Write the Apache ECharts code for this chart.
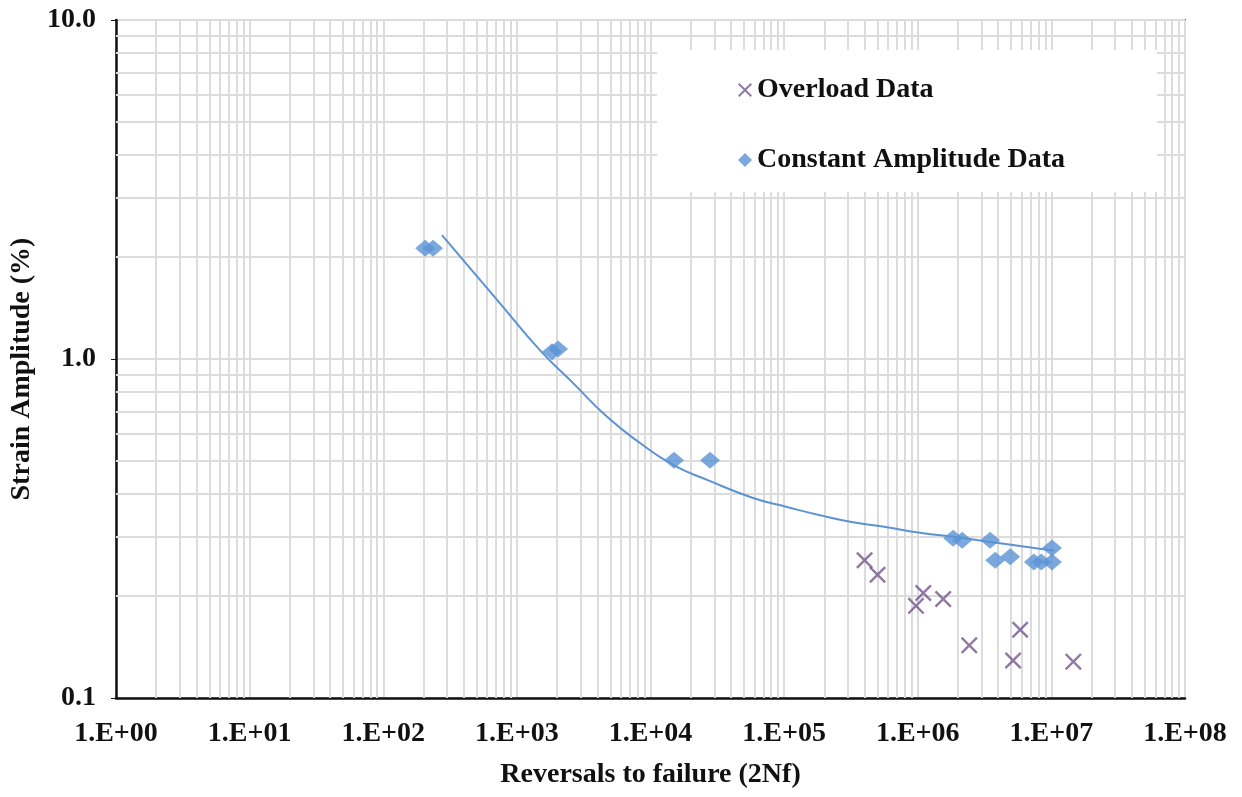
<!DOCTYPE html>
<html>
<head>
<meta charset="utf-8">
<script src="https://cdn.jsdelivr.net/npm/echarts@6/dist/echarts.min.js"></script>
<style>
  html, body { margin: 0; padding: 0; background: #fff; }
  #main { width: 1242px; height: 797px; }
</style>
</head>
<body>
<div id="main"></div>
<script>
// 轴刻度
var xTickLabels = ['1.E+00', '1.E+01', '1.E+02', '1.E+03', '1.E+04', '1.E+05', '1.E+06', '1.E+07', '1.E+08'];
var yTickLabels = ['0.1', '1.0', '10.0'];

// 过载数据 (reversals, strain %)
var overloadX = [4.0e5, 5.0e5, 9.7e5, 1.1e6, 1.55e6, 2.43e6, 5.84e6, 5.17e6, 1.46e7];
var overloadY = [0.255, 0.231, 0.187, 0.204, 0.196, 0.143, 0.159, 0.129, 0.128];

// 恒幅数据
var constX = [206, 236, 1834, 2033, 15000, 27900, 1.84e6, 2.15e6, 3.48e6, 3.80e6, 4.92e6, 7.4e6, 8.4e6, 1.01e7, 1.01e7];
var constY = [2.12, 2.12, 1.05, 1.07, 0.503, 0.503, 0.296, 0.292, 0.292, 0.255, 0.261, 0.252, 0.252, 0.252, 0.277];

// 趋势线
var trendX = [275, 748, 1493, 2637, 4732, 8356, 14760, 26530, 58640, 1.05e5, 1.86e5, 3.28e5, 5.9e5, 1.04e6, 1.84e6, 4.14e6, 1.05e7];
var trendY = [2.32, 1.46, 1.06, 0.849, 0.675, 0.565, 0.487, 0.440, 0.389, 0.366, 0.346, 0.330, 0.319, 0.307, 0.299, 0.286, 0.272];

function pairs(xs, ys) {
    return xs.map(function (x, i) { return [x, ys[i]]; });
}

// 对数次网格线
var minorLines = [];
for (var k = 0; k < 8; k++) {
    for (var m = 2; m <= 9; m++) minorLines.push({ xAxis: m * Math.pow(10, k) });
}
for (var j = -1; j < 1; j++) {
    for (var n = 2; n <= 9; n++) minorLines.push({ yAxis: n * Math.pow(10, j) });
}

var font = 'Liberation Serif';
var crossPath = 'path://M1,0 L5,4 L9,0 L10,1 L6,5 L10,9 L9,10 L5,6 L1,10 L0,9 L4,5 L0,1 Z';
var gridColor = '#dcdcdc';

var chart = echarts.init(document.getElementById('main'));
var option = {
    animation: false,
    backgroundColor: '#fff',
    grid: {
        left: 116, right: 57, top: 20, bottom: 99,
        show: true, borderColor: '#555', borderWidth: 2
    },
    // 图例白底
    graphic: {
        z: 8,
        elements: [{
            type: 'rect', z: 8,
            shape: { x: 657, y: 50, width: 500, height: 142 },
            style: { fill: '#fff' }
        }]
    },
    legend: {
        data: ['Overload Data', 'Constant Amplitude Data'],
        orient: 'vertical',
        left: 738, top: 75,
        padding: 0,
        itemGap: 40,
        itemWidth: 14, itemHeight: 14,
        z: 10,
        textStyle: { fontFamily: font, fontWeight: 'bold', fontSize: 28, color: '#111', lineHeight: 30 }
    },
    xAxis: {
        type: 'log', logBase: 10, min: 1, max: 1e8, splitNumber: 8,
        name: 'Reversals to failure (2Nf)',
        nameLocation: 'middle', nameGap: 63,
        nameTextStyle: { fontFamily: font, fontWeight: 'bold', fontSize: 28, color: '#111' },
        axisLine: { lineStyle: { color: '#111', width: 2.5 } },
        axisTick: { show: false },
        axisLabel: {
            fontFamily: font, fontWeight: 'bold', fontSize: 28, color: '#111', margin: 22,
            formatter: function (v) { return xTickLabels[Math.round(Math.log10(v))]; }
        },
        splitLine: { show: true, lineStyle: { color: gridColor, width: 2 } }
    },
    yAxis: {
        type: 'log', logBase: 10, min: 0.1, max: 10, splitNumber: 2,
        name: 'Strain Amplitude (%)',
        nameLocation: 'middle', nameGap: 74,
        nameTextStyle: { fontFamily: font, fontWeight: 'bold', fontSize: 28, color: '#111', padding: [0, 20, 0, 0] },
        axisLine: { show: true, lineStyle: { color: '#111', width: 2.5 } },
        axisTick: { show: true, length: 5, lineStyle: { color: '#111' } },
        axisLabel: {
            fontFamily: font, fontWeight: 'bold', fontSize: 28, color: '#111', margin: 20,
            formatter: function (v) { return yTickLabels[Math.round(Math.log10(v)) + 1]; }
        },
        splitLine: { show: true, lineStyle: { color: gridColor, width: 2 } }
    },
    series: [
        {
            name: 'minor', type: 'scatter', data: [], z: 1, silent: true,
            markLine: {
                z: 1, silent: true, symbol: ['none', 'none'], label: { show: false },
                lineStyle: { color: gridColor, width: 2, type: 'solid' },
                data: minorLines
            }
        },
        {
            name: 'trend', type: 'line', data: pairs(trendX, trendY), z: 2,
            smooth: true, showSymbol: false,
            lineStyle: { color: '#5b93d3', width: 2 }
        },
        {
            name: 'Overload Data', type: 'scatter', data: pairs(overloadX, overloadY), z: 3,
            symbol: crossPath, symbolSize: 17,
            itemStyle: { color: '#74568f' }
        },
        {
            name: 'Constant Amplitude Data', type: 'scatter', data: pairs(constX, constY), z: 3,
            symbol: 'diamond', symbolSize: [20, 17],
            itemStyle: { color: '#5a93d4' }
        }
    ]
};
chart.setOption(option);
</script>
</body>
</html>
